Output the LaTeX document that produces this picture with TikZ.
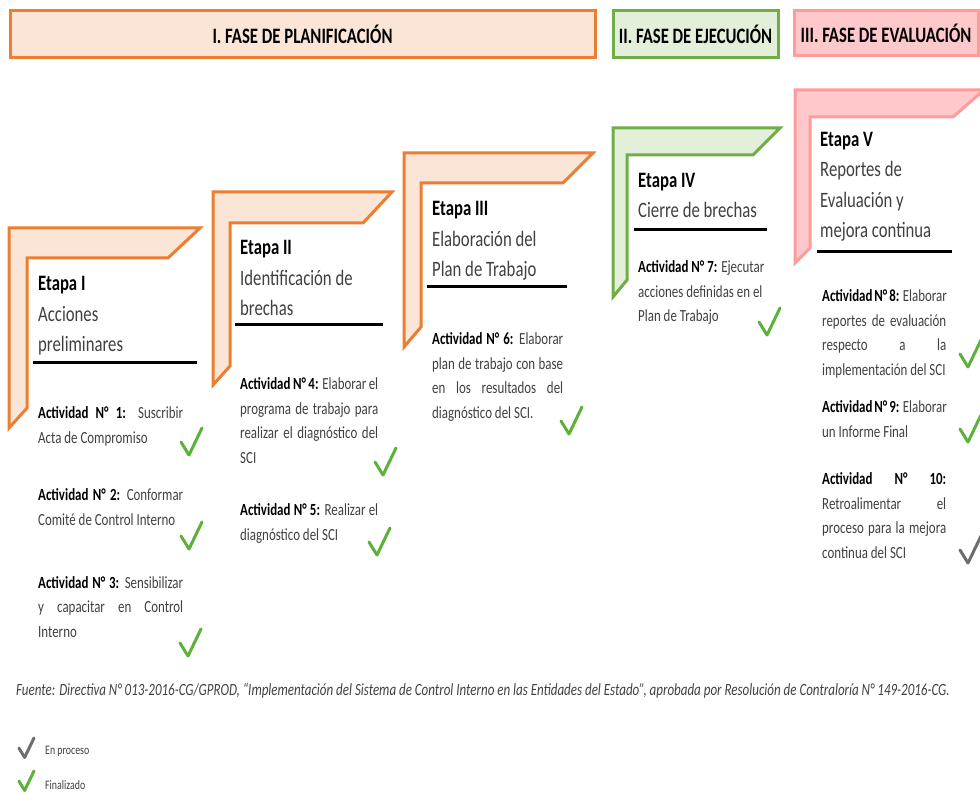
\documentclass[tikz,border=0pt]{standalone}
\usepackage{fontspec}
\setmainfont{Carlito}[FakeStretch=0.76]
\definecolor{naranja}{HTML}{ED7D31}
\definecolor{naranjaclaro}{HTML}{FBE5D6}
\definecolor{verde}{HTML}{70AD47}
\definecolor{verdeclaro}{HTML}{E2F0D9}
\definecolor{rosa}{HTML}{FF9B9B}
\definecolor{rosaclaro}{HTML}{FFC9CC}
\definecolor{visto}{HTML}{5DB13A}
\definecolor{gris}{HTML}{404040}
\definecolor{grisvisto}{HTML}{6D6D6D}
\newcommand{\actnum}[1]{\textbf{\color{black}Actividad N° #1:}}
\begin{document}
\begin{tikzpicture}[x=1pt,y=-1pt,
   fase/.style={draw,line width=3pt,minimum height=47pt,inner sep=0pt,
                font=\bfseries\fontsize{22}{26}\selectfont},
   etapa/.style={line width=3pt},
   titulo/.style={anchor=base west,inner sep=0pt,align=left,text=gris,
                  font=\fontsize{22}{30.5}\selectfont},
   act/.style={anchor=base west,inner sep=0pt,align=left,text=gris,
               font=\fontsize{17}{24.5}\selectfont},
   raya/.style={line width=3pt},
   chk/.pic={\draw[line width=3pt,line cap=round,line join=round]
             (-21,14) -- (-13,27) -- (0,0);}]

\useasboundingbox (0,0) rectangle (980,794);

% fases
\node[fase,draw=naranja,fill=naranjaclaro,minimum width=585pt] (f1) at (302.5,34.5) {I. FASE DE PLANIFICACIÓN};
\node[fase,draw=verde,fill=verdeclaro,minimum width=165pt] (f2) at (695.5,34.5) {II. FASE DE EJECUCIÓN};
\node[fase,draw=rosa,fill=rosaclaro,minimum width=184pt,minimum height=45pt] (f3) at (886,33.5) {III. FASE DE EVALUACIÓN};

% etapas
\filldraw[etapa,draw=naranja,fill=naranjaclaro] (9,228) -- (200,228) -- (168,258) -- (27,258) -- (27,408) -- (9,428) -- cycle;
\filldraw[etapa,draw=naranja,fill=naranjaclaro] (213,192) -- (392,192) -- (363,223) -- (230,223) -- (230,366) -- (213,385) -- cycle;
\filldraw[etapa,draw=naranja,fill=naranjaclaro] (404,153) -- (593,153) -- (563,183) -- (421,183) -- (421,327) -- (404,347) -- cycle;
\filldraw[etapa,draw=verde,fill=verdeclaro] (613,128) -- (780,128) -- (753,155) -- (627,155) -- (627,280) -- (613,297) -- cycle;
\filldraw[etapa,draw=rosa,fill=rosaclaro] (795,90) -- (984,90) -- (953,117) -- (810,117) -- (810,248) -- (795,263) -- cycle;

% the base of a node is its last line
\node[titulo] (e1) at (38,352) {\textbf{\color{black}Etapa I}\\Acciones\\preliminares};
\node[titulo] (e2) at (240,316) {\textbf{\color{black}Etapa II}\\Identificación de\\brechas};
\node[titulo] (e3) at (432,277) {\textbf{\color{black}Etapa III}\\Elaboración del\\Plan de Trabajo};
\node[titulo] (e4) at (638,218) {\textbf{\color{black}Etapa IV}\\Cierre de brechas};
\node[titulo] (e5) at (820,238) {\textbf{\color{black}Etapa V}\\Reportes de\\Evaluación y\\mejora continua};

\draw[raya] (33,362) -- (197,362);
\draw[raya] (235,325) -- (383,325);
\draw[raya] (427,287) -- (567,287);
\draw[raya] (634,230) -- (767,230);
\draw[raya] (817,252) -- (952,252);

% actividades
\node[act] (a1) at (38,443) {\makebox[145pt][s]{\actnum{1} Suscribir}\\Acta de Compromiso};
\node[act] (a2) at (38,525) {\makebox[145pt][s]{\actnum{2} Conformar}\\Comité de Control Interno};
\node[act] (a3) at (38,637) {\makebox[145pt][s]{\actnum{3} Sensibilizar}\\\makebox[145pt][s]{y capacitar en Control}\\Interno};
\node[act] (a4) at (240,463) {\makebox[138pt][s]{\actnum{4} Elaborar el}\\\makebox[138pt][s]{programa de trabajo para}\\\makebox[138pt][s]{realizar el diagnóstico del}\\SCI};
\node[act] (a5) at (240,540) {\makebox[138pt][s]{\actnum{5} Realizar el}\\diagnóstico del SCI};
\node[act] (a6) at (432,418) {\makebox[131pt][s]{\actnum{6} Elaborar}\\\makebox[131pt][s]{plan de trabajo con base}\\\makebox[131pt][s]{en los resultados del}\\diagnóstico del SCI.};
\node[act] (a7) at (638,322) {\actnum{7} Ejecutar\\acciones definidas en el\\Plan de Trabajo};
\node[act] (a8) at (822,375) {\makebox[124pt][s]{\actnum{8} Elaborar}\\\makebox[124pt][s]{reportes de evaluación}\\\makebox[124pt][s]{respecto a la}\\implementación del SCI};
\node[act] (a9) at (822,437) {\makebox[124pt][s]{\actnum{9} Elaborar}\\un Informe Final};
\node[act] (a10) at (822,558) {\makebox[124pt][s]{\actnum{10}}\\\makebox[124pt][s]{Retroalimentar el}\\\makebox[124pt][s]{proceso para la mejora}\\continua del SCI};

% vistos
\pic[visto] at (202,428) {chk};
\pic[visto] at (202,522) {chk};
\pic[visto] at (201,629) {chk};
\pic[visto] at (396,448) {chk};
\pic[visto] at (390,528) {chk};
\pic[visto] at (582,407) {chk};
\pic[visto] at (780,308) {chk};
\pic[visto] at (981,340) {chk};
\pic[visto] at (981,415) {chk};
\pic[grisvisto] at (981,536) {chk};

% fuente y leyenda
\node[anchor=base west,inner sep=0pt,text=gris,font=\itshape\fontsize{17.1}{20}\selectfont] (fuente) at (16,695)
  {Fuente: Directiva N° 013-2016-CG/GPROD, “Implementación del Sistema de Control Interno en las Entidades del Estado”, aprobada por Resolución de Contraloría N° 149-2016-CG.};
\pic[grisvisto,scale=0.72] at (34,738) {chk};
\pic[visto,scale=0.72] at (34,771) {chk};
\node[anchor=base west,inner sep=0pt,text=gris,font=\fontsize{13}{15}\selectfont] (leg1) at (45,754) {En proceso};
\node[anchor=base west,inner sep=0pt,text=gris,font=\fontsize{13}{15}\selectfont] (leg2) at (45,789) {Finalizado};

\end{tikzpicture}
\end{document}
